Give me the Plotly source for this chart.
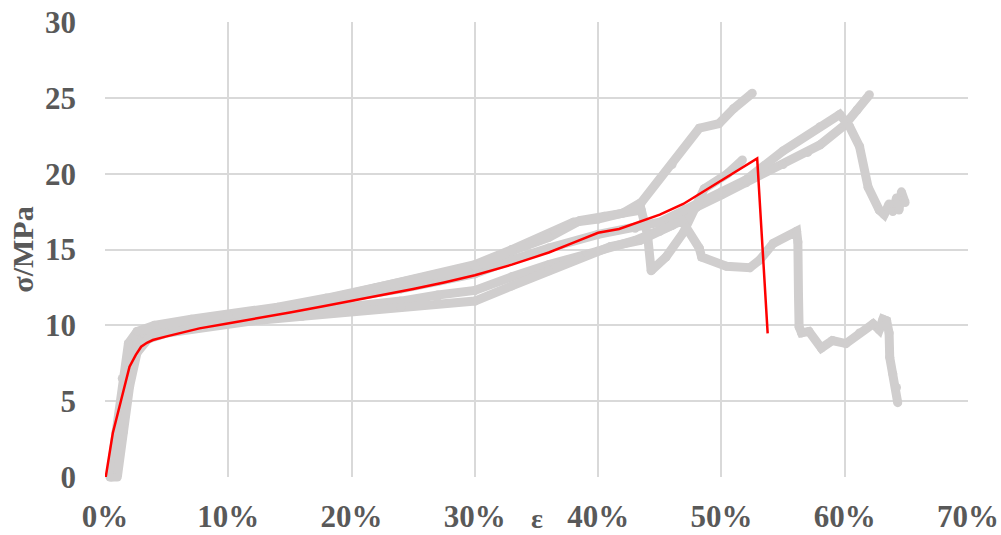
import plotly.graph_objects as go

# Tensile test curves: strain in %, stress in MPa
spec1_strain = [0.5, 1.0, 1.5, 2.0, 2.6, 3.5, 5, 8, 12, 16, 20, 24, 27, 30, 33, 36, 38, 40, 42, 43.5,
                46, 48.2, 49.8, 51, 52.5]
spec1_stress = [0, 2.5, 5.5, 8.0, 9.1, 9.6, 9.9, 10.3, 10.8, 11.4, 12.1, 12.8, 13.4, 14.0, 15.0, 16.0, 16.8,
                17.0, 17.4, 18.1, 20.6, 23.0, 23.3, 24.3, 25.3]

spec2_strain = [0.8, 1.3, 1.8, 2.4, 3.2, 5, 8, 12, 16, 20, 24, 27, 30, 33, 36, 40, 43, 46, 48, 50, 52,
                55, 57, 58, 60, 61, 62]
spec2_stress = [0, 3.0, 6.2, 8.4, 9.3, 9.7, 10.1, 10.5, 10.9, 11.2, 11.6, 12.0, 12.3, 13.2, 14.0, 14.9,
                15.6, 16.6, 17.8, 18.6, 19.4, 20.6, 21.4, 21.9, 23.2, 24.2, 25.2]

spec3_strain = [0.6, 1.1, 1.6, 2.2, 3.0, 5, 8, 12, 16, 20, 24, 27, 30, 33, 36, 40, 43, 45, 47, 50, 52,
                55, 58, 59.6, 60.4, 61.2, 61.9, 62.8, 63.2, 63.6, 63.9, 64.2, 64.4, 64.6, 64.9]
spec3_stress = [0, 3.0, 6.3, 8.7, 9.5, 9.9, 10.3, 10.8, 11.3, 11.8, 12.4, 12.9, 13.4, 14.3, 15.1, 16.0,
                16.4, 16.8, 17.6, 18.8, 19.6, 21.5, 23.1, 23.9, 23.1, 21.8, 19.1, 17.6, 17.3, 18.0,
                17.5, 18.4, 17.6, 18.8, 18.1]

spec4_strain = [0.4, 0.9, 1.4, 1.9, 2.6, 4, 7, 10, 14, 18, 22, 26, 30, 33, 36, 38.5, 40.5, 43.5, 44.0,
                44.3, 45.5, 46.9, 48.6, 50.5, 51.7]
spec4_stress = [0, 3.0, 6.5, 8.8, 9.6, 10.0, 10.4, 10.7, 11.2, 11.8, 12.5, 13.2, 13.9, 14.9, 15.8, 16.9,
                17.2, 17.6, 16.0, 13.6, 14.5, 16.1, 19.0, 20.0, 20.9]

spec5_strain = [1.0, 1.5, 2.0, 2.6, 3.5, 5, 8, 12, 16, 20, 24, 27, 30, 33, 36, 38.5, 41, 43.4, 45, 46.8,
                48.2, 48.4, 50.4, 52.3, 53.1, 54.2, 56.1, 56.2, 56.25, 56.3, 56.5, 57.1, 58.1, 59.0,
                60.1, 61.2, 62.3, 62.8, 63.1, 63.4, 63.6, 63.65, 63.9, 64.2, 64.3]
spec5_stress = [0, 3.0, 6.0, 8.2, 9.1, 9.5, 9.9, 10.3, 10.6, 10.9, 11.2, 11.5, 11.6, 12.6, 13.6, 14.5,
                15.2, 15.6, 16.2, 16.9, 15.1, 14.5, 13.9, 13.8, 14.3, 15.4, 16.2, 15.5, 12.0, 9.9,
                9.5, 9.6, 8.5, 9.0, 8.8, 9.5, 10.1, 9.7, 10.4, 10.3, 9.5, 7.9, 6.8, 5.9, 4.9]

# Fitted constitutive curve
fit_strain = [0, 0.63, 1.31, 1.99, 2.5, 2.93, 3.4, 3.88, 5.0, 6.04, 7.66, 9.83, 12.5, 15, 17.5, 20,
              22.5, 25, 27.5, 30, 33, 36, 38, 40, 41.7, 43.35, 45, 46.9, 48.5, 50.5, 52.9, 53.75]
fit_stress = [-0.3, 2.88, 5.08, 7.27, 8.05, 8.59, 8.85, 9.03, 9.27, 9.47, 9.8, 10.1, 10.47, 10.85,
              11.22, 11.6, 12.0, 12.4, 12.83, 13.3, 14.0, 14.8, 15.45, 16.1, 16.35, 16.8, 17.3,
              18.0, 18.8, 19.85, 21.0, 9.47]

x_ticks = [0, 10, 20, 30, 40, 50, 60, 70]
y_ticks = [0, 5, 10, 15, 20, 25, 30]

GRAY = "#D0CECE"
RED = "#FF0000"
FONT = "Liberation Serif"

fig = go.Figure()

specimens = [
    (spec1_strain, spec1_stress),
    (spec2_strain, spec2_stress),
    (spec3_strain, spec3_stress),
    (spec4_strain, spec4_stress),
    (spec5_strain, spec5_stress),
]
for xs, ys in specimens:
    fig.add_trace(go.Scatter(
        x=xs, y=ys, mode="lines+markers",
        line=dict(color=GRAY, width=9),
        marker=dict(color=GRAY, size=9),
        showlegend=False, cliponaxis=False,
    ))

fig.add_trace(go.Scatter(
    x=fit_strain, y=fit_stress, mode="lines",
    line=dict(color=RED, width=2.5),
    showlegend=False, cliponaxis=False,
))

axis_font = dict(family=FONT, size=31, color="#595959", weight="bold")

fig.update_layout(
    width=1001, height=535,
    margin=dict(l=105, r=33, t=22, b=58),
    paper_bgcolor="white", plot_bgcolor="white",
    font=dict(family=FONT, color="#595959"),
    xaxis=dict(
        range=[0, 70], tickvals=x_ticks, ticktext=[f"{v}%" for v in x_ticks],
        showgrid=True, gridcolor="#D9D9D9", gridwidth=1.5,
        zeroline=False, showline=False, ticks="", automargin=False,
        tickfont=axis_font, ticklabelstandoff=18,
    ),
    yaxis=dict(
        range=[0, 30], tickvals=y_ticks,
        showgrid=True, gridcolor="#D9D9D9", gridwidth=1.5,
        zeroline=False, showline=False, ticks="", automargin=False,
        tickfont=axis_font, ticklabelstandoff=28,
    ),
    annotations=[
        dict(text="<b>σ/MPa</b>", xref="paper", yref="paper", x=-0.096, y=0.5,
             textangle=-90, showarrow=False, xanchor="center", yanchor="middle",
             font=dict(family=FONT, size=30, color="#595959")),
        dict(text="<b>ε</b>", xref="paper", yref="paper", x=0.5, y=-0.127,
             showarrow=False, xanchor="center", yanchor="bottom", borderpad=0,
             font=dict(family=FONT, size=28, color="#595959")),
    ],
)

fig.write_html("out.html")
